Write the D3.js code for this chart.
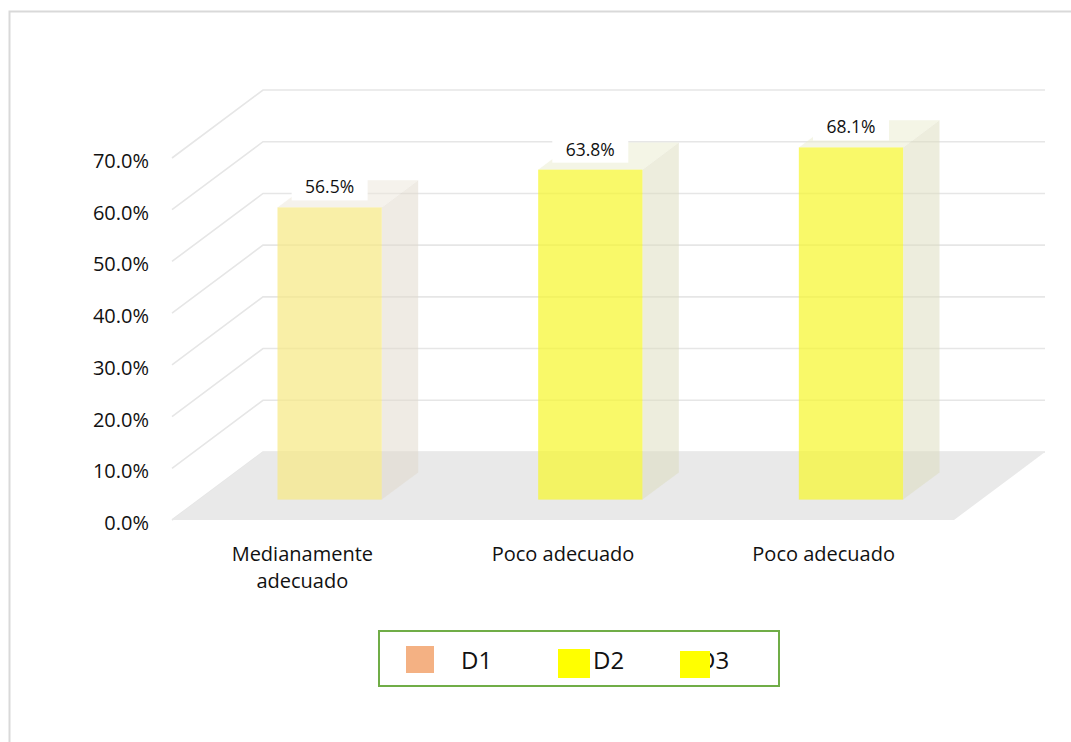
<!DOCTYPE html>
<html>
<head>
<meta charset="utf-8">
<script src="https://cdn.jsdelivr.net/npm/d3@7/dist/d3.min.js"></script>
<style>
  body { margin: 0; background: #fff; }
  svg { display: block; font-family: 'Open Sans', sans-serif; }
</style>
</head>
<body>
<div id="chart"></div>
<script>
// chart values
var categories = [['Medianamente', 'adecuado'], ['Poco adecuado'], ['Poco adecuado']];
var values = [0.565, 0.638, 0.681];
var barFront = ['#F6E881', '#F6F62A', '#F6F62A'];
var barSide = ['#DFD7C9', '#DBDBBB', '#DBDBBB'];
var barTop = ['#EBE5D9', '#E9EBCD', '#E9EBCD'];
var yTicks = [0, 0.1, 0.2, 0.3, 0.4, 0.5, 0.6, 0.7];
var legendNames = ['D1', 'D2', 'D3'];
var legendColors = ['#F4B183', '#FFFF00', '#FFFF00'];

var W = 1071, H = 742;
var svg = d3.select('#chart').append('svg')
    .attr('width', W)
    .attr('height', H);

// outer frame (only left and top edges visible)
svg.append('rect')
    .attr('x', 9.5).attr('y', 11.5)
    .attr('width', 1200).attr('height', 900)
    .attr('fill', 'none')
    .attr('stroke', '#D9D9D9')
    .attr('stroke-width', 2);

var x0 = 172, x1 = 954, y0 = 520;
var depth = {dx: 91, dy: -68};   // floor depth vector
var dFront = 0.3, dBack = 0.7;    // bar position inside the depth

var xScale = d3.scaleBand()
    .domain(d3.range(values.length))
    .range([x0, x1])
    .paddingInner(0.6)
    .paddingOuter(0.3);

var yScale = d3.scaleLinear()
    .domain([0, 0.7])
    .range([y0, 158]);

var fmt = d3.format('.1%');
var g = svg.append('g');

// side wall + back wall gridlines
g.selectAll('.grid')
    .data(yTicks)
    .enter().append('polyline')
        .attr('class', 'grid')
        .attr('fill', 'none')
        .attr('stroke', '#E6E6E6')
        .attr('stroke-width', 1.6)
        .attr('points', function(d) {
            var y = yScale(d);
            return [[x0, y], [x0 + depth.dx, y + depth.dy], [x1 + depth.dx, y + depth.dy]].join(' ');
        });

// floor
g.append('polygon')
    .attr('fill', '#E9E9E9')
    .attr('points', [[x0, y0], [x1, y0], [x1 + depth.dx, y0 + depth.dy], [x0 + depth.dx, y0 + depth.dy]].join(' '));

// y axis labels
g.selectAll('.ylab')
    .data(yTicks)
    .enter().append('text')
        .attr('class', 'ylab')
        .attr('x', 149)
        .attr('y', function(d) { return yScale(d) + 10; })
        .attr('text-anchor', 'end')
        .attr('font-size', 20)
        .attr('fill', '#111')
        .text(fmt);

var pt = function(x, y, d) { return [x + d * depth.dx, y + d * depth.dy]; };

var bar = g.selectAll('.bar')
    .data(values)
    .enter().append('g')
        .attr('class', 'bar');

// right side
bar.append('polygon')
    .attr('fill', function(d, i) { return barSide[i]; })
    .attr('fill-opacity', 0.5)
    .attr('points', function(d, i) {
        var xr = xScale(i) + xScale.bandwidth(), yv = yScale(d);
        return [pt(xr, yv, dFront), pt(xr, yv, dBack), pt(xr, y0, dBack), pt(xr, y0, dFront)].join(' ');
    });

// top
bar.append('polygon')
    .attr('fill', function(d, i) { return barTop[i]; })
    .attr('fill-opacity', 0.5)
    .attr('points', function(d, i) {
        var xl = xScale(i), xr = xl + xScale.bandwidth(), yv = yScale(d);
        return [pt(xl, yv, dFront), pt(xr, yv, dFront), pt(xr, yv, dBack), pt(xl, yv, dBack)].join(' ');
    });

// front
bar.append('rect')
    .attr('fill', function(d, i) { return barFront[i]; })
    .attr('fill-opacity', 0.7)
    .attr('x', function(d, i) { return xScale(i) + dFront * depth.dx; })
    .attr('y', function(d) { return yScale(d) + dFront * depth.dy; })
    .attr('width', xScale.bandwidth())
    .attr('height', function(d) { return y0 - yScale(d); });

// data labels
var lab = g.selectAll('.dlab')
    .data(values)
    .enter().append('g')
        .attr('class', 'dlab')
        .attr('transform', function(d, i) {
            var cx = xScale(i) + xScale.bandwidth() / 2 + dFront * depth.dx;
            var cy = yScale(d) + dFront * depth.dy - 7 - 13;
            return 'translate(' + cx + ',' + cy + ')';
        });

lab.append('rect')
    .attr('x', -38).attr('y', -13)
    .attr('width', 76).attr('height', 26)
    .attr('fill', '#fff');

lab.append('text')
    .attr('text-anchor', 'middle')
    .attr('y', 6)
    .attr('font-size', 17.5)
    .attr('fill', '#111')
    .text(function(d) { return fmt(d); });

// category labels
g.selectAll('.xlab')
    .data(categories)
    .enter().append('text')
        .attr('class', 'xlab')
        .attr('text-anchor', 'middle')
        .attr('font-size', 20)
        .attr('fill', '#111')
        .attr('transform', function(d, i) {
            return 'translate(' + (xScale(i) + xScale.bandwidth() / 2) + ',561)';
        })
        .selectAll('tspan')
        .data(function(d) { return d; })
        .enter().append('tspan')
            .attr('x', 0)
            .attr('dy', function(d, j) { return j ? 27 : 0; })
            .text(function(d) { return d; });

// legend
var legend = svg.append('g');
legend.append('rect')
    .attr('x', 379).attr('y', 631)
    .attr('width', 400).attr('height', 55)
    .attr('fill', '#fff')
    .attr('stroke', '#70AD47')
    .attr('stroke-width', 2);

var legItems = [
    {sx: 406, sy: 646, sw: 28, sh: 27, tx: 461},
    {sx: 558, sy: 649, sw: 32, sh: 29, tx: 593},
    {sx: 680, sy: 651, sw: 30, sh: 27, tx: 698}
];

var li = legend.selectAll('.leg')
    .data(legendNames)
    .enter().append('g')
        .attr('class', 'leg');

li.append('text')
    .attr('x', function(d, i) { return legItems[i].tx; })
    .attr('y', 669)
    .attr('font-size', 24)
    .attr('fill', '#111')
    .text(function(d) { return d; });

li.append('rect')
    .attr('x', function(d, i) { return legItems[i].sx; })
    .attr('y', function(d, i) { return legItems[i].sy; })
    .attr('width', function(d, i) { return legItems[i].sw; })
    .attr('height', function(d, i) { return legItems[i].sh; })
    .attr('fill', function(d, i) { return legendColors[i]; });
</script>
</body>
</html>
